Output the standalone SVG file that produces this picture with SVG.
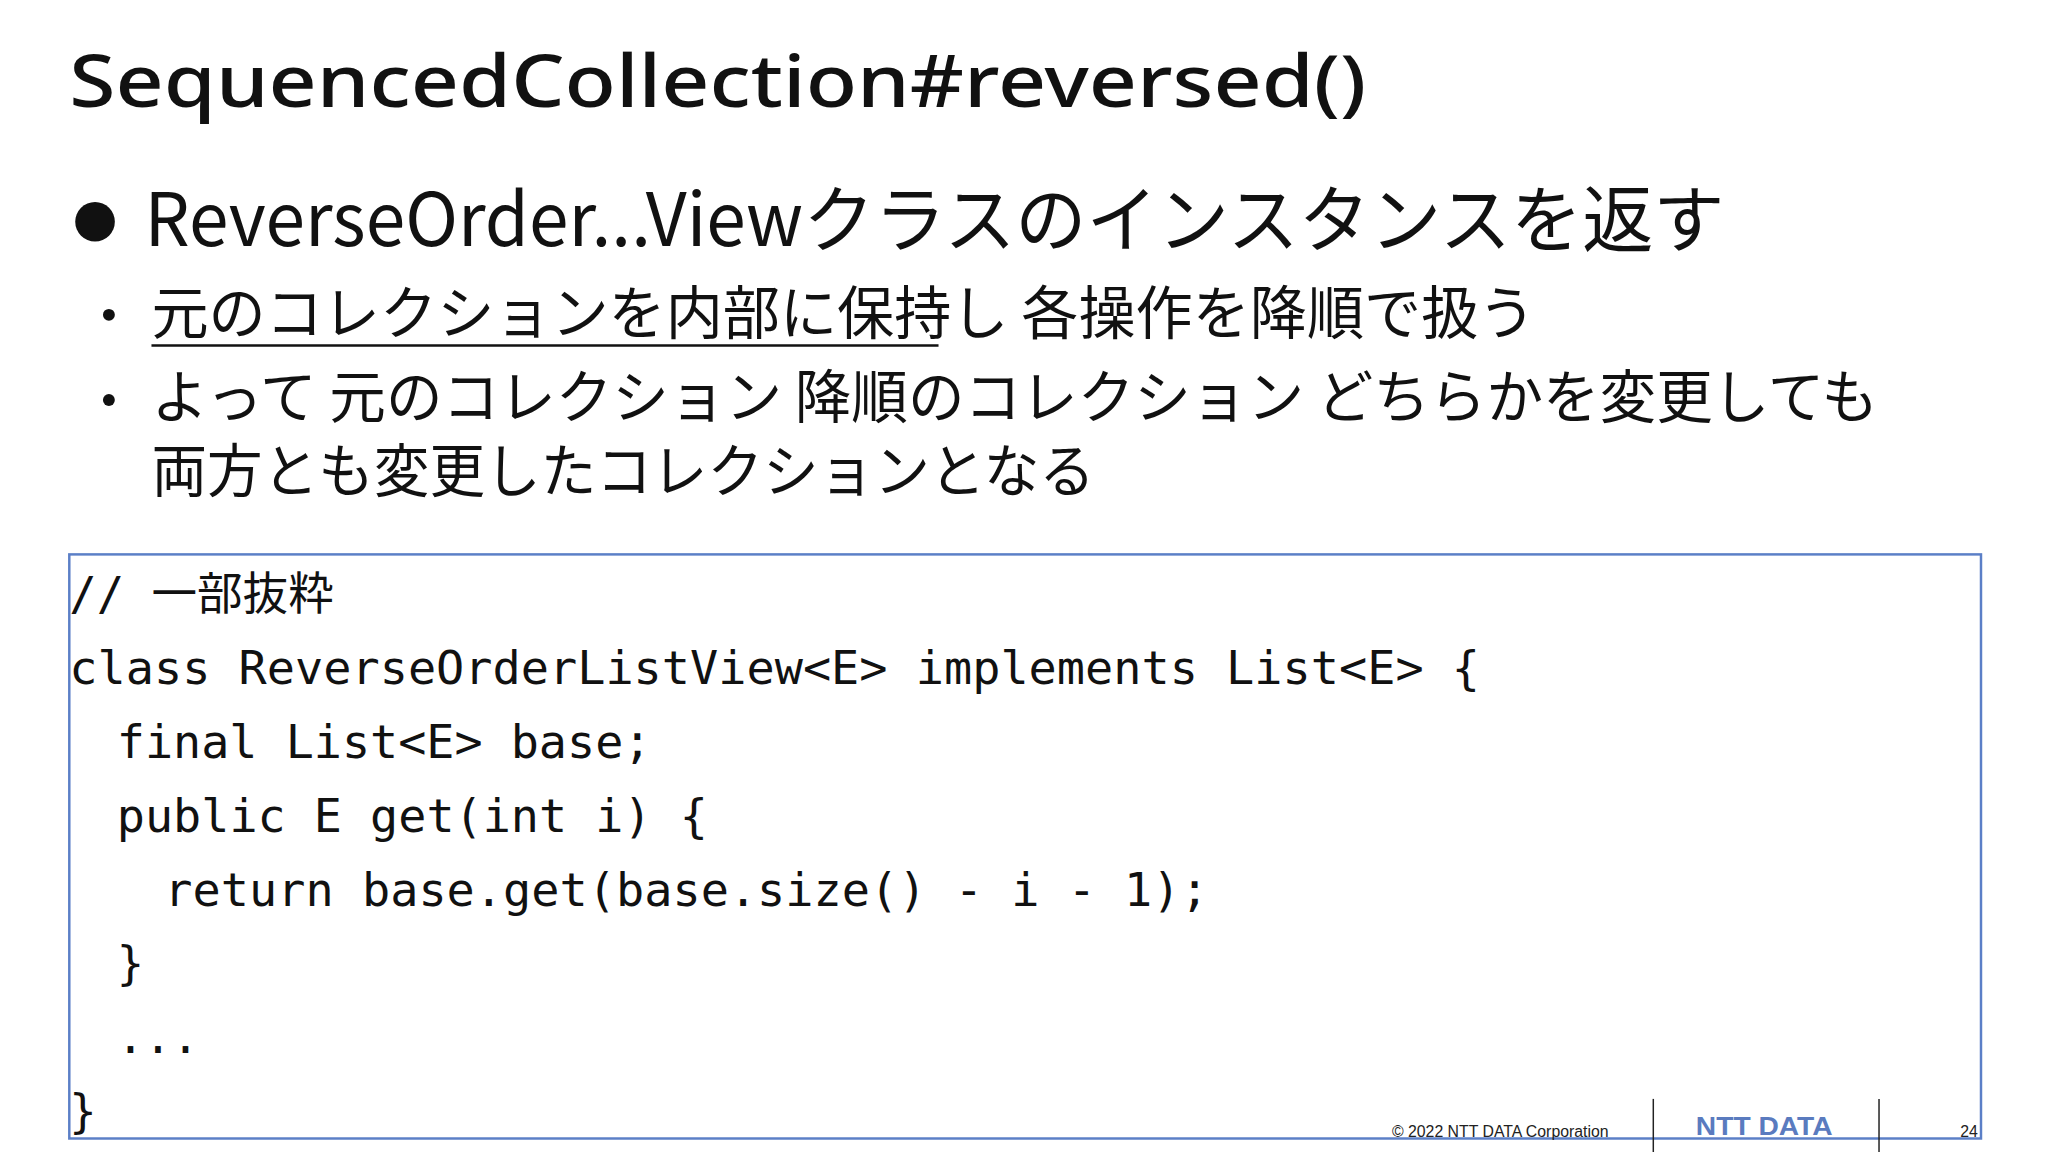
<svg xmlns="http://www.w3.org/2000/svg" width="2048" height="1152" viewBox="0 0 2048 1152">
<style>
.t{font-family:"Noto Sans","Noto Sans CJK JP",sans-serif;fill:#111}
.j{font-family:"Noto Sans CJK JP","Noto Sans",sans-serif;fill:#111}
.c{font-family:"DejaVu Sans Mono","Liberation Mono","Noto Sans CJK JP",monospace;font-size:46px;fill:#111}
.f{font-family:"Liberation Sans",sans-serif;font-size:16px;fill:#222}
</style>
<rect width="2048" height="1152" fill="#fff"/>
<g transform="scale(0.99)">
<g id="title"><text class="t" x="70" y="108" font-size="74" font-weight="500" textLength="1310" lengthAdjust="spacingAndGlyphs">SequencedCollection#reversed()</text></g>
<g id="bullets">
<circle cx="96" cy="224" r="20" fill="#111"/>
<text class="j" x="146" y="248" font-size="74" textLength="1596" lengthAdjust="spacingAndGlyphs">ReverseOrder...Viewクラスのインスタンスを返す</text>
<circle cx="110" cy="318" r="6" fill="#111"/>
<text class="j" x="153" y="337" font-size="58" textLength="1398" lengthAdjust="spacingAndGlyphs">元のコレクションを内部に保持し 各操作を降順で扱う</text>
<line x1="153" y1="349" x2="948" y2="349" stroke="#111" stroke-width="2.5"/>
<circle cx="110" cy="404" r="6" fill="#111"/>
<text class="j" x="153" y="422" font-size="58" textLength="1744" lengthAdjust="spacingAndGlyphs">よって 元のコレクション 降順のコレクション どちらかを変更しても</text>
<text class="j" x="153" y="497" font-size="58" textLength="953" lengthAdjust="spacingAndGlyphs">両方とも変更したコレクションとなる</text>
</g>
<g id="code">
<rect x="70" y="560" width="1931" height="590" fill="none" stroke="#5b7fc7" stroke-width="2.5"/>
<text class="c" x="70" y="616">// <tspan class="j" font-size="46">一部抜粋</tspan></text>
<text class="c" x="70" y="691" textLength="1425" lengthAdjust="spacingAndGlyphs">class ReverseOrderListView&lt;E&gt; implements List&lt;E&gt; {</text>
<text class="c" x="118" y="766" textLength="540" lengthAdjust="spacingAndGlyphs">final List&lt;E&gt; base;</text>
<text class="c" x="118" y="840" textLength="597" lengthAdjust="spacingAndGlyphs">public E get(int i) {</text>
<text class="c" x="166" y="915" textLength="1055" lengthAdjust="spacingAndGlyphs">return base.get(base.size() - i - 1);</text>
<text class="c" x="118" y="989">}</text>
<text class="c" x="118" y="1064">...</text>
<text class="c" x="70" y="1138">}</text>
</g>
<g id="footer">
<text class="f" x="1406" y="1148">© 2022 NTT DATA Corporation</text>
<line x1="1670" y1="1110" x2="1670" y2="1164" stroke="#222" stroke-width="1.5"/>
<line x1="1898" y1="1110" x2="1898" y2="1164" stroke="#222" stroke-width="1.5"/>
<text x="1713" y="1146" font-family="Liberation Sans,sans-serif" font-weight="bold" font-size="26" fill="#5a7bbf" textLength="138" lengthAdjust="spacingAndGlyphs">NTT DATA</text>
<text class="f" x="1980" y="1148" font-size="18">24</text>
</g>
</g>
</svg>
